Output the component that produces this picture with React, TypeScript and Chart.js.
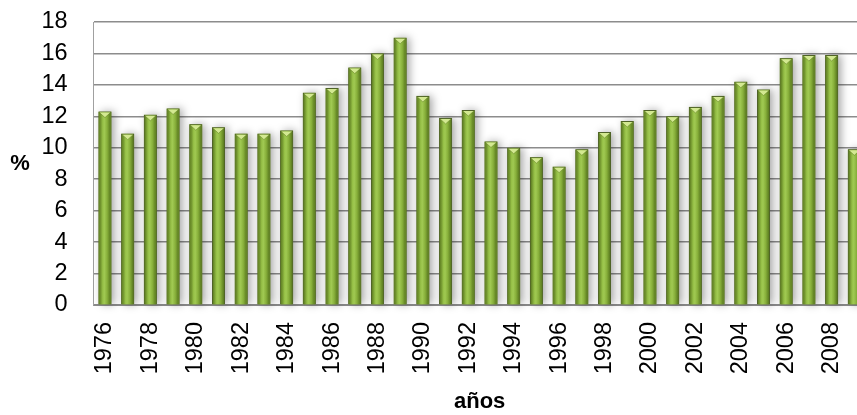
import { useEffect, useRef } from 'react';
import { Chart, registerables } from 'chart.js';

Chart.register(...registerables);

const years = [
  '1976', '1977', '1978', '1979', '1980', '1981', '1982', '1983', '1984', '1985',
  '1986', '1987', '1988', '1989', '1990', '1991', '1992', '1993', '1994', '1995',
  '1996', '1997', '1998', '1999', '2000', '2001', '2002', '2003', '2004', '2005',
  '2006', '2007', '2008', '2009',
];
const values = [
  12.3, 10.9, 12.1, 12.5, 11.5, 11.3, 10.9, 10.9, 11.1, 13.5,
  13.8, 15.1, 16.0, 17.0, 13.3, 11.9, 12.4, 10.4, 10.0, 9.4,
  8.8, 9.9, 11.0, 11.7, 12.4, 12.0, 12.6, 13.3, 14.2, 13.7,
  15.7, 15.9, 15.9, 9.9,
];
const yMin = 0;
const yMax = 18;
const yStep = 2;
const xTitle = 'años';
const yTitle = '%';

const FONT = '"Liberation Sans", Arial, sans-serif';

const barStyler = {
  id: 'barStyler',
  beforeDatasetsDraw(chart: any) {
    const ctx = chart.ctx;
    const meta = chart.getDatasetMeta(0);
    ctx.save();
    meta.data.forEach((bar: any) => {
      const { x, y, base, width } = bar.getProps(['x', 'y', 'base', 'width'], true);
      ctx.shadowColor = 'rgba(0,0,0,0.35)';
      ctx.shadowBlur = 8;
      ctx.shadowOffsetX = 3;
      ctx.shadowOffsetY = 0;
      ctx.fillStyle = '#6b8a2a';
      ctx.fillRect(x - width / 2, y, width, base - y);
    });
    ctx.restore();
  },
  afterDatasetsDraw(chart: any) {
    const ctx = chart.ctx;
    const meta = chart.getDatasetMeta(0);
    ctx.save();
    meta.data.forEach((bar: any) => {
      const { x, y, base, width } = bar.getProps(['x', 'y', 'base', 'width'], true);
      const l = x - width / 2 + 1;
      const r = x + width / 2 - 1;
      const g = ctx.createLinearGradient(l, 0, r, 0);
      g.addColorStop(0, '#5f7f22');
      g.addColorStop(0.3, '#96c047');
      g.addColorStop(0.45, '#a0c952');
      g.addColorStop(0.7, '#88b03b');
      g.addColorStop(1, '#5a7a1f');
      ctx.fillStyle = g;
      ctx.fillRect(l, y + 1, r - l, base - y - 1);
      ctx.beginPath();
      ctx.moveTo(l, y + 1);
      ctx.lineTo(r, y + 1);
      ctx.lineTo(x, y + 6);
      ctx.closePath();
      ctx.fillStyle = '#d3e991';
      ctx.fill();
      ctx.strokeStyle = 'rgba(90,120,30,0.6)';
      ctx.lineWidth = 0.8;
      ctx.beginPath();
      ctx.moveTo(l, y + 1);
      ctx.lineTo(x, y + 6);
      ctx.lineTo(r, y + 1);
      ctx.stroke();
    });
    ctx.restore();
  },
};

const yTitlePlugin = {
  id: 'yTitlePlugin',
  afterDraw(chart: any) {
    const ctx = chart.ctx;
    const { top, bottom } = chart.chartArea;
    ctx.save();
    ctx.font = `bold 22px ${FONT}`;
    ctx.fillStyle = '#000';
    ctx.textAlign = 'center';
    ctx.textBaseline = 'middle';
    ctx.fillText(yTitle, 20, (top + bottom) / 2);
    ctx.restore();
  },
};

export default function App() {
  const ref = useRef<HTMLCanvasElement | null>(null);

  useEffect(() => {
    if (!ref.current) return;
    const chart = new Chart(ref.current, {
      type: 'bar',
      data: {
        labels: years,
        datasets: [
          {
            data: values,
            backgroundColor: '#86ad3a',
            borderColor: '#4f6228',
            borderWidth: 1,
            barPercentage: 1,
            categoryPercentage: 0.57,
          },
        ],
      },
      options: {
        animation: false,
        responsive: false,
        devicePixelRatio: 1,
        layout: { padding: { top: 22, right: 32, bottom: 0, left: 0 } },
        plugins: {
          legend: { display: false },
          tooltip: { enabled: false },
        },
        scales: {
          x: {
            type: 'category',
            grid: { display: false, drawTicks: false },
            border: { display: true, color: '#8c8c8c', width: 2 },
            ticks: {
              autoSkip: false,
              minRotation: 90,
              maxRotation: 90,
              padding: 17,
              color: '#000',
              font: { family: FONT, size: 23.5 },
              callback: (_v: any, i: number) => (i % 2 === 0 ? years[i] : ''),
            },
            title: {
              display: true,
              text: xTitle,
              color: '#000',
              font: { family: FONT, size: 22, weight: 'bold' },
              padding: { top: 0, bottom: 0 },
            },
            afterFit: (scale: any) => {
              scale.height = 110;
            },
          },
          y: {
            min: yMin,
            max: yMax,
            grid: { color: '#8c8c8c', lineWidth: 1.5, drawTicks: false },
            border: { display: true, color: '#a0a0a0', width: 1 },
            ticks: {
              stepSize: yStep,
              autoSkip: false,
              padding: 26,
              color: '#000',
              font: { family: FONT, size: 23.5 },
            },
            afterFit: (scale: any) => {
              scale.width = 93.6;
              scale.paddingTop = 0;
              scale.paddingBottom = 0;
            },
          },
        },
      },
      plugins: [barStyler, yTitlePlugin],
    } as any);
    return () => chart.destroy();
  }, []);

  return (
    <div
      style={{
        position: 'absolute',
        left: 0,
        top: 0,
        width: 857,
        height: 415,
        overflow: 'hidden',
        background: '#fff',
      }}
    >
      <canvas ref={ref} width={900} height={415} style={{ display: 'block' }} />
    </div>
  );
}
